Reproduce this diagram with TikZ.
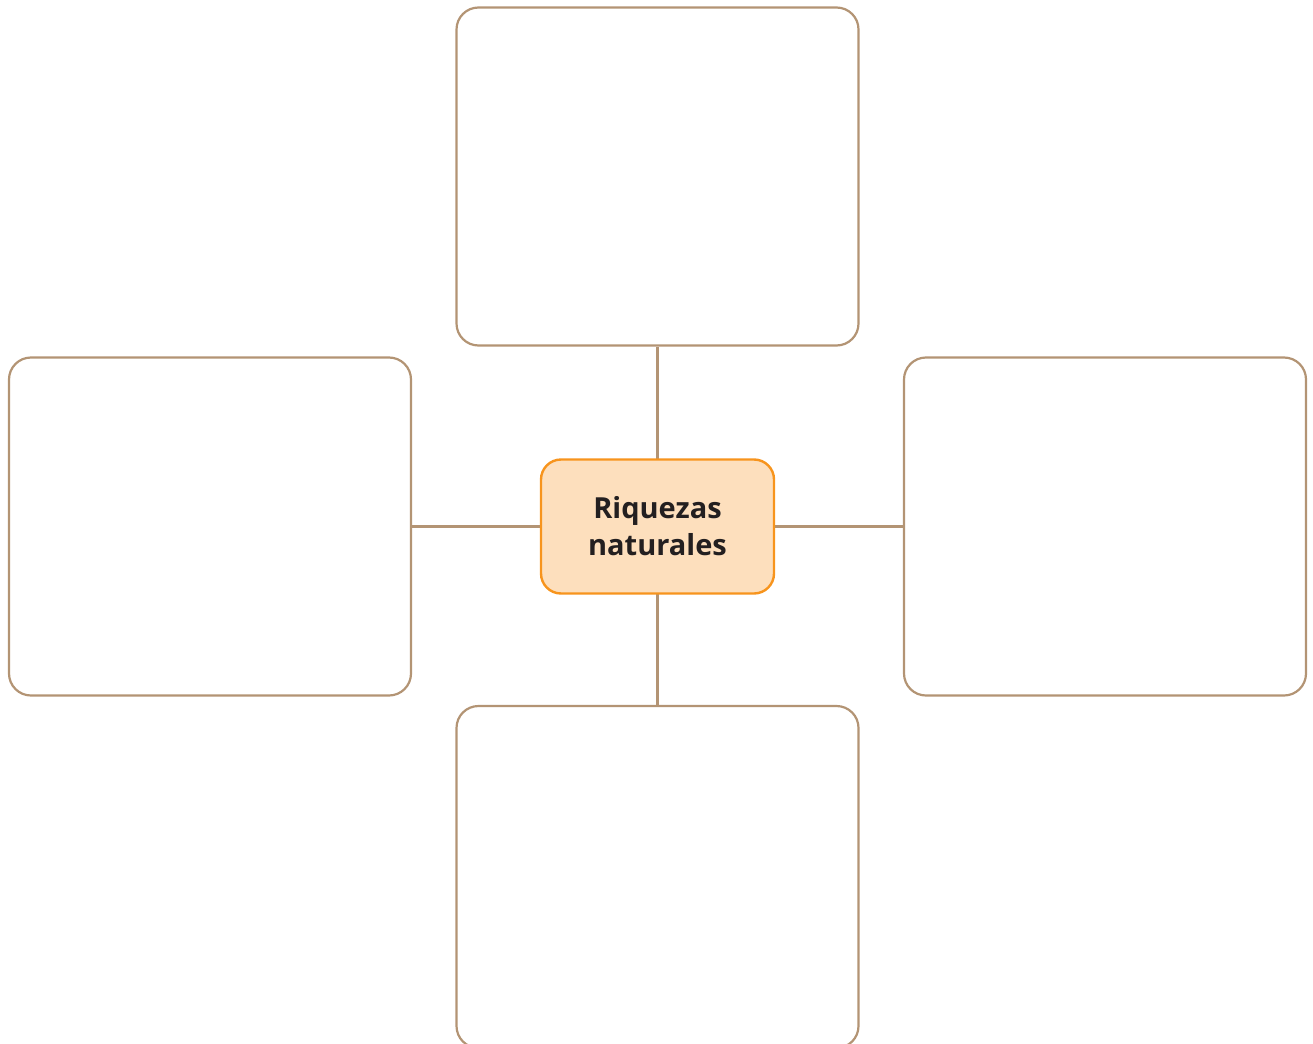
\documentclass[tikz,border=0pt]{standalone}
\usepackage{fontspec}
\setmainfont{Open Sans}
\definecolor{tan}{HTML}{B39474}
\definecolor{orangeline}{HTML}{F7941D}
\definecolor{orangefill}{HTML}{FDDFBD}
\definecolor{txt}{HTML}{231F20}
\begin{document}
\begin{tikzpicture}[x=1pt,y=-1pt,
  emptybox/.style={draw=tan, line width=2.2pt, rounded corners=22pt, fill=white,
    minimum width=402pt, minimum height=338pt, inner sep=0pt},
  centerbox/.style={draw=orangeline, line width=2.4pt, rounded corners=20pt, fill=orangefill,
    minimum width=233pt, minimum height=134pt, inner sep=0pt, align=center,
    font=\fontsize{29}{37}\selectfont\bfseries, text=txt},
  link/.style={draw=tan, line width=2.2pt}]
\useasboundingbox (0,0) rectangle (1313,1043);
\node[emptybox] (top) at (657.5,176.5) {};
\node[emptybox] (left) at (210,526.5) {};
\node[emptybox] (right) at (1105,526.5) {};
\node[emptybox, minimum height=342pt] (bottom) at (657.5,877) {};
\draw[link] (657.5,526.5) -- (top.south);
\draw[link] (657.5,526.5) -- (bottom.north);
\draw[link] (657.5,526.5) -- (left.east);
\draw[link] (657.5,526.5) -- (right.west);
\node[centerbox] (center) at (657.5,526.5) {Riquezas\\naturales};
\end{tikzpicture}
\end{document}
